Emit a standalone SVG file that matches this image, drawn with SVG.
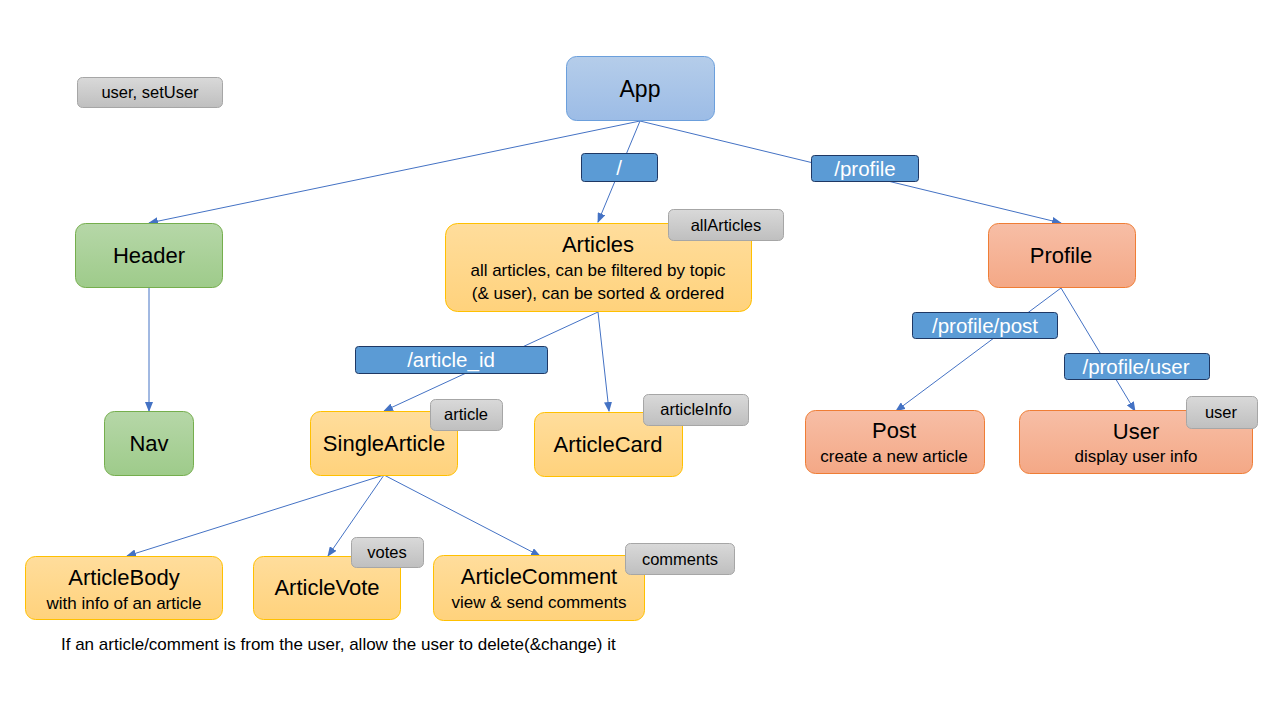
<svg xmlns="http://www.w3.org/2000/svg" width="1280" height="720" viewBox="0 0 1280 720">
<defs>
<linearGradient id="gBlue" x1="0" y1="0" x2="0" y2="1"><stop offset="0" stop-color="#b5cdea"/><stop offset="1" stop-color="#9cbce6"/></linearGradient>
<linearGradient id="gGreen" x1="0" y1="0" x2="0" y2="1"><stop offset="0" stop-color="#b6d7a8"/><stop offset="1" stop-color="#9ecb8a"/></linearGradient>
<linearGradient id="gOrange" x1="0" y1="0" x2="0" y2="1"><stop offset="0" stop-color="#ffdd9c"/><stop offset="1" stop-color="#ffd27c"/></linearGradient>
<linearGradient id="gSalmon" x1="0" y1="0" x2="0" y2="1"><stop offset="0" stop-color="#f7bea6"/><stop offset="1" stop-color="#f4a886"/></linearGradient>
<linearGradient id="gGray" x1="0" y1="0" x2="0" y2="1"><stop offset="0" stop-color="#d9d9d9"/><stop offset="1" stop-color="#bfbfbf"/></linearGradient>
<marker id="arr" markerUnits="userSpaceOnUse" markerWidth="10" markerHeight="8" refX="9" refY="4" orient="auto">
<path d="M0,0 L10,4 L0,8 Z" fill="#4472c4"/>
</marker>
</defs>
<style>
text{font-family:"Liberation Sans",Arial,sans-serif;fill:#000;text-anchor:middle}
.blue{fill:url(#gBlue);stroke:#6b9fdc;stroke-width:1}
.green{fill:url(#gGreen);stroke:#75ae4d;stroke-width:1}
.orange{fill:url(#gOrange);stroke:#ffc000;stroke-width:1}
.salmon{fill:url(#gSalmon);stroke:#ef7d35;stroke-width:1}
.tag{fill:url(#gGray);stroke:#a6a6a6;stroke-width:1}
.lbl{fill:#5b9bd5;stroke:#1f3864;stroke-width:1}
.lt{fill:#fff;font-size:20.5px}
.t1{font-size:22px}
.t2{font-size:17px}
.tt{font-size:16.5px}
.conn line{stroke:#4472c4;stroke-width:1;marker-end:url(#arr)}
</style>
<rect width="1280" height="720" fill="#fff"/>
<g id="connectors" class="conn">
<line x1="640" y1="121" x2="149" y2="223"/>
<line x1="640" y1="121" x2="598" y2="222"/>
<line x1="640" y1="121" x2="1061" y2="223"/>
<line x1="149" y1="288" x2="149" y2="411"/>
<line x1="598" y1="312" x2="384" y2="411"/>
<line x1="598" y1="312" x2="609" y2="411"/>
<line x1="1061" y1="288" x2="896" y2="411"/>
<line x1="1061" y1="288" x2="1135" y2="411"/>
<line x1="384" y1="475" x2="127" y2="556"/>
<line x1="384" y1="475" x2="328" y2="556"/>
<line x1="384" y1="475" x2="540" y2="556"/>
</g>
<g id="label-root"><rect class="lbl" x="581.5" y="153.5" width="76" height="28" rx="3"/><text class="lt" x="619" y="175">/</text></g>
<g id="label-profile"><rect class="lbl" x="811.5" y="155.5" width="107" height="26" rx="3"/><text class="lt" x="865" y="176">/profile</text></g>
<g id="label-article-id"><rect class="lbl" x="355.5" y="346.5" width="192" height="27" rx="3"/><text class="lt" x="451" y="367">/article_id</text></g>
<g id="label-profile-post"><rect class="lbl" x="912.5" y="312.5" width="145" height="26" rx="3"/><text class="lt" x="985" y="333">/profile/post</text></g>
<g id="label-profile-user"><rect class="lbl" x="1064.5" y="353.5" width="145" height="26" rx="3"/><text class="lt" x="1136" y="374">/profile/user</text></g>

<g id="tag-user-setuser"><rect class="tag" x="77.5" y="77.5" width="145" height="30" rx="5"/><text class="tt" x="150" y="98">user, setUser</text></g>

<g id="node-app"><rect class="blue" x="566.5" y="56.5" width="148" height="64" rx="10"/><text x="640" y="97" style="font-size:23px">App</text></g>
<g id="node-header"><rect class="green" x="75.5" y="223.5" width="147" height="64" rx="10"/><text class="t1" x="149" y="263">Header</text></g>
<g id="node-nav"><rect class="green" x="104.5" y="411.5" width="89" height="64" rx="10"/><text class="t1" x="149" y="451">Nav</text></g>
<g id="node-articles"><rect class="orange" x="445.5" y="223.5" width="306" height="88" rx="12"/><text class="t1" x="598" y="252">Articles</text><text class="t2" x="598" y="276">all articles, can be filtered by topic</text><text class="t2" x="598" y="299">(&amp; user), can be sorted &amp; ordered</text></g>
<g id="tag-allarticles"><rect class="tag" x="668.5" y="209.5" width="115" height="31" rx="5"/><text class="tt" x="726" y="231">allArticles</text></g>
<g id="node-singlearticle"><rect class="orange" x="310.5" y="411.5" width="147" height="64" rx="10"/><text class="t1" x="384" y="451">SingleArticle</text></g>
<g id="tag-article"><rect class="tag" x="430.5" y="399.5" width="72" height="31" rx="5"/><text class="tt" x="466" y="420">article</text></g>
<g id="node-articlecard"><rect class="orange" x="534.5" y="412.5" width="148" height="64" rx="10"/><text class="t1" x="608" y="452">ArticleCard</text></g>
<g id="tag-articleinfo"><rect class="tag" x="643.5" y="394.5" width="105" height="31" rx="5"/><text class="tt" x="696" y="415">articleInfo</text></g>
<g id="node-profile"><rect class="salmon" x="988.5" y="223.5" width="147" height="64" rx="10"/><text class="t1" x="1061" y="263">Profile</text></g>
<g id="node-post"><rect class="salmon" x="805.5" y="410.5" width="179" height="63" rx="10"/><text class="t1" x="894" y="438">Post</text><text class="t2" x="894" y="462">create a new article</text></g>
<g id="node-user"><rect class="salmon" x="1019.5" y="410.5" width="233" height="63" rx="10"/><text class="t1" x="1136" y="439">User</text><text class="t2" x="1136" y="462">display user info</text></g>
<g id="tag-user"><rect class="tag" x="1186.5" y="396.5" width="71" height="32" rx="5"/><text class="tt" x="1221" y="418">user</text></g>
<g id="node-articlebody"><rect class="orange" x="25.5" y="556.5" width="197" height="63" rx="10"/><text class="t1" x="124" y="585">ArticleBody</text><text class="t2" x="124" y="609">with info of an article</text></g>
<g id="node-articlevote"><rect class="orange" x="253.5" y="556.5" width="147" height="63" rx="10"/><text class="t1" x="327" y="595">ArticleVote</text></g>
<g id="tag-votes"><rect class="tag" x="351.5" y="537.5" width="72" height="30" rx="5"/><text class="tt" x="387" y="558">votes</text></g>
<g id="node-articlecomment"><rect class="orange" x="433.5" y="555.5" width="211" height="65" rx="10"/><text class="t1" x="539" y="584">ArticleComment</text><text class="t2" x="539" y="608">view &amp; send comments</text></g>
<g id="tag-comments"><rect class="tag" x="625.5" y="543.5" width="109" height="31" rx="5"/><text class="tt" x="680" y="565">comments</text></g>
<text id="note" x="61" y="650" style="font-size:17px;text-anchor:start">If an article/comment is from the user, allow the user to delete(&amp;change) it</text>
</svg>
